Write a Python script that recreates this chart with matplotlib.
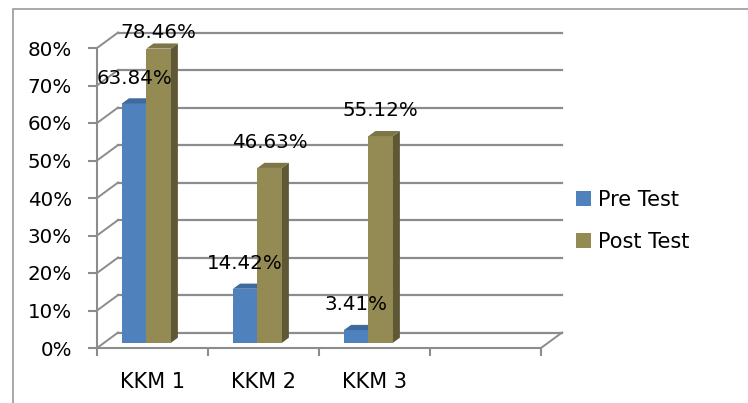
import matplotlib
matplotlib.use("Agg")
import matplotlib.pyplot as plt
from matplotlib.patches import Polygon, Patch, Rectangle

categories = ["KKM 1", "KKM 2", "KKM 3", ""]
series_names = ["Pre Test", "Post Test"]
pre_test = [63.84, 14.42, 3.41]
post_test = [78.46, 46.63, 55.12]
y_ticks = [0, 10, 20, 30, 40, 50, 60, 70, 80]

front_col = ["#4F81BD", "#948A54"]
top_col = ["#3E6A9E", "#7E7549"]
side_col = ["#34598A", "#5E5836"]
grid_col = "#8C8C8C"

# 3d look: depth offset of the walls in data units
DX, DY = 0.19, 4.13
BAR_OFF, BAR_W = 0.162, 0.22

fig = plt.figure(figsize=(7.48, 4.03), dpi=100)
ax = fig.add_axes([97 / 748, 1 - 348 / 403, 444 / 748, 300 / 403])
ax.set_xlim(0, len(categories))
ax.set_ylim(0, 80)

# outer chart border (only top/left visible in the reference)
fig.add_artist(Rectangle((13 / 748, -0.1), 1.2, 1 - 9.5 / 403 + 0.1, transform=fig.transFigure,
                         fill=False, edgecolor="#9A9A9A", linewidth=1.2))

# back wall gridlines and side wall diagonals
for v in y_ticks:
    ax.plot([DX, len(categories) + DX], [v + DY, v + DY], color=grid_col, lw=1.6, zorder=1, clip_on=False)
    ax.plot([0, DX], [v, v + DY], color=grid_col, lw=1.4, zorder=1, clip_on=False)
ax.plot([len(categories), len(categories) + DX], [0, DY], color=grid_col, lw=1.4, zorder=1, clip_on=False)

# bars
ddx, ddy = DX / 3, DY / 3
for i in range(len(pre_test)):
    for j, vals in enumerate([pre_test, post_test]):
        v = vals[i]
        x0 = i + BAR_OFF + j * BAR_W + ddx
        b = ddy
        t = v + ddy
        x1 = x0 + BAR_W
        ax.add_patch(Polygon([(x1, b), (x1, t), (x1 + ddx, t + ddy), (x1 + ddx, b + ddy)],
                             closed=True, facecolor=side_col[j], edgecolor="none", zorder=3, clip_on=False))
        ax.add_patch(Rectangle((x0, b), BAR_W, v, facecolor=front_col[j], edgecolor="none", zorder=3, clip_on=False))
        ax.add_patch(Polygon([(x0, t), (x1, t), (x1 + ddx, t + ddy), (x0 + ddx, t + ddy)],
                             closed=True, facecolor=top_col[j], edgecolor="none", zorder=3, clip_on=False))
        ly = min(t + ddy + 20 / 3.75, 80 + DY)
        ax.text(x0 + BAR_W / 2, ly, f"{v:.2f}%", ha="center", va="center", fontsize=14.3, zorder=5)

# axes
for s in ["top", "right"]:
    ax.spines[s].set_visible(False)
for s in ["left", "bottom"]:
    ax.spines[s].set_color(grid_col)
    ax.spines[s].set_linewidth(1.5)
    ax.spines[s].set_zorder(2)
ax.set_yticks(y_ticks)
ax.set_yticklabels([f"{v}%" for v in y_ticks])
ax.tick_params(axis="y", length=6.5, width=1.5, color=grid_col, pad=11.5, labelsize=14.3)
ax.set_xticks(range(len(categories) + 1))
ax.set_xticklabels([])
ax.set_xticks([i + 0.5 for i in range(len(categories))], minor=True)
ax.set_xticklabels(categories, minor=True)
ax.tick_params(axis="x", which="major", length=5.8, width=1.5, color=grid_col)
ax.tick_params(axis="x", which="minor", length=0, pad=17, labelsize=15)
ax.patch.set_visible(False)

handles = [Patch(facecolor=front_col[k], edgecolor="none") for k in range(2)]
fig.legend(handles, series_names, loc="center left", bbox_to_anchor=(557 / 748, 1 - 221 / 403),
           frameon=False, fontsize=15, handlelength=0.72, handleheight=0.72, handletextpad=0.35,
           labelspacing=1.05)

fig.savefig("out.png", dpi=100)
